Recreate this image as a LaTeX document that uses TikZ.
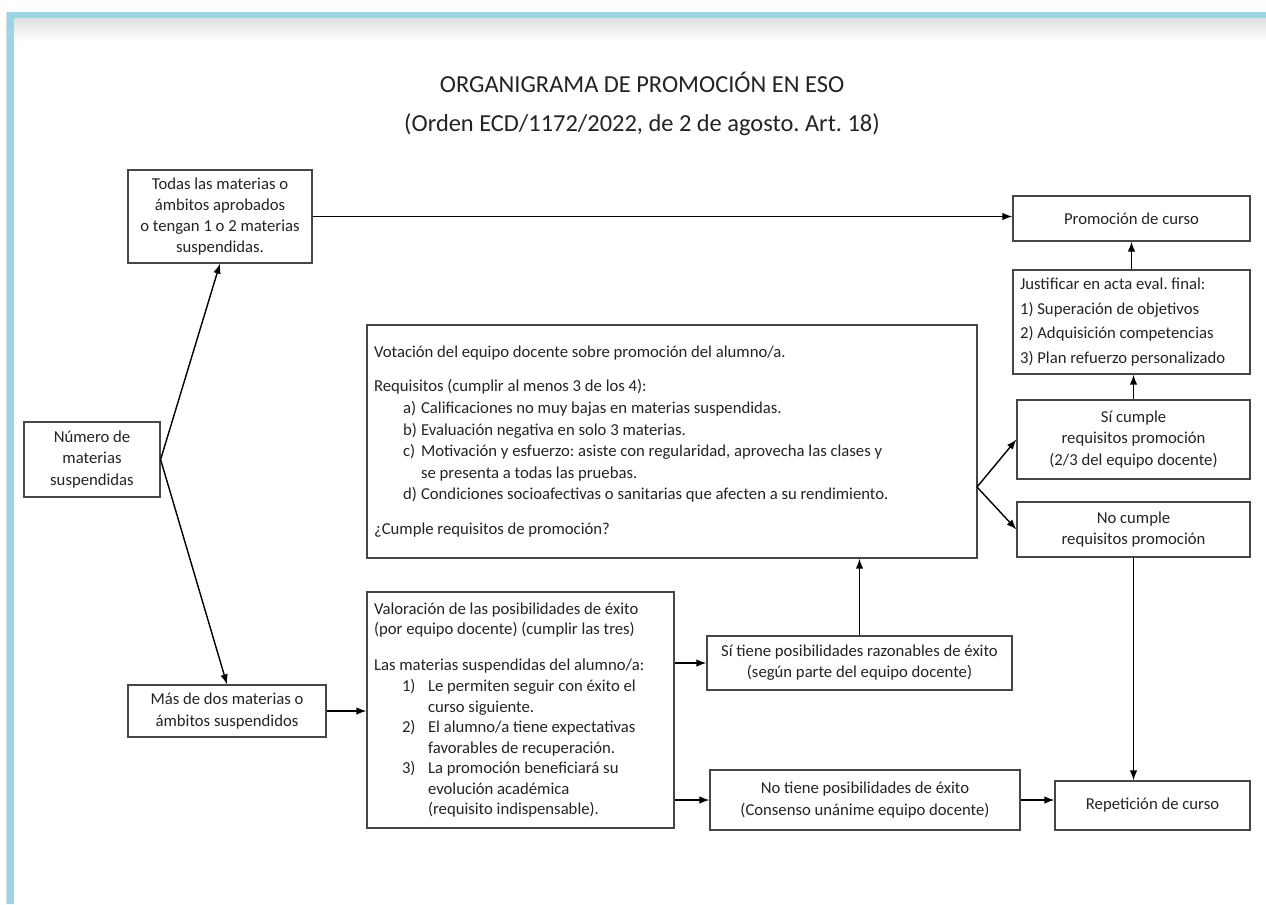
\documentclass[tikz,border=0pt]{standalone}
\usepackage{fontspec}
\setmainfont{Carlito}
\usepackage{tikz}
\usetikzlibrary{arrows, arrows.meta}
\usetikzlibrary{calc}

\definecolor{framebl}{RGB}{152,214,232}
\definecolor{boxline}{RGB}{70,70,70}
\definecolor{inktext}{RGB}{35,35,35}
\newcommand{\litem}[3]{\hspace*{#1}\makebox[#2][l]{#3}}
\frenchspacing

\begin{document}
\begin{tikzpicture}[x=0.02cm, y=-0.02cm]
            \tikzset{box/.style = {shape=rectangle, draw=boxline, line width=0.7pt, text=inktext,
                                   inner xsep=0.14cm, font=\fontsize{9.5}{12}\selectfont}}
            \tikzset{edge/.style = {-, > = {Latex[length=2mm, width=1.5mm]}, line width=0.8pt}}
            \useasboundingbox (0,0) rectangle (1266,904);
            % page frame
            \fill[black!15] (6,12) rectangle (7,904);
            \shade[top color=black!12, bottom color=white] (14,18) rectangle (1266,42);
            \fill[framebl] (7,12) rectangle (1266,18);
            \fill[framebl] (7,12) rectangle (14,904);
            % title
            \node[text=inktext, font=\fontsize{13.9}{16}\selectfont] (title) at (642,82) {ORGANIGRAMA DE PROMOCIÓN EN ESO};
            \node[text=inktext, font=\fontsize{13.9}{16}\selectfont] (subtitle) at (642,125) {(Orden ECD/1172/2022, de 2 de agosto. Art. 18)};
            % boxes
            \node[box, align=center, minimum width=3.68cm, minimum height=1.86cm] (todas) at (220,216.5)
                {Todas las materias o\\ámbitos aprobados\\o tengan 1 o 2 materias\\suspendidas.};
            \node[box, align=center, minimum width=4.74cm, minimum height=0.9cm] (promo) at (1131.5,218.5) {Promoción de curso};
            \node[box, align=flush left, text width=4.46cm, minimum height=2.08cm, font=\fontsize{9.5}{14}\selectfont] (just) at (1131.5,322)
                {Justificar en acta eval. final:\\1) Superación de objetivos\\2) Adquisición competencias\\3) Plan refuerzo personalizado};
            \node[box, align=center, minimum width=4.66cm, minimum height=1.58cm] (sicumple) at (1133.5,439.5)
                {Sí cumple\\requisitos promoción\\(2/3 del equipo docente)};
            \node[box, align=center, minimum width=4.66cm, minimum height=1.1cm] (nocumple) at (1133.5,529.5)
                {No cumple\\requisitos promoción};
            \node[box, align=flush left, text width=11.92cm, minimum height=4.66cm, font=\fontsize{9.5}{12.3}\selectfont] (votacion) at (672,441.5)
                {Votación del equipo docente sobre promoción del alumno/a.\\[7.5pt]
                 Requisitos (cumplir al menos 3 de los 4):\\
                 \litem{0.58cm}{0.36cm}{a)}Calificaciones no muy bajas en materias suspendidas.\\
                 \litem{0.58cm}{0.36cm}{b)}Evaluación negativa en solo 3 materias.\\
                 \litem{0.58cm}{0.36cm}{c)}Motivación y esfuerzo: asiste con regularidad, aprovecha las clases y\\
                 \hspace*{0.94cm}se presenta a todas las pruebas.\\
                 \litem{0.58cm}{0.36cm}{d)}Condiciones socioafectivas o sanitarias que afecten a su rendimiento.\\[7.5pt]
                 ¿Cumple requisitos de promoción?};
            \node[box, align=center, minimum width=2.72cm, minimum height=1.5cm] (numero) at (92,459.5)
                {Número de\\materias\\suspendidas};
            \node[box, align=center, minimum width=3.96cm, minimum height=1.04cm] (mas) at (227,711)
                {Más de dos materias o\\ámbitos suspendidos};
            \node[box, align=flush left, text width=5.86cm, minimum height=4.72cm, font=\fontsize{9.5}{11.7}\selectfont] (valor) at (520.5,710)
                {Valoración de las posibilidades de éxito\\
                 (por equipo docente) (cumplir las tres)\\[9pt]
                 Las materias suspendidas del alumno/a:\\
                 \litem{0.56cm}{0.52cm}{1)}Le permiten seguir con éxito el\\
                 \hspace*{1.08cm}curso siguiente.\\
                 \litem{0.56cm}{0.52cm}{2)}El alumno/a tiene expectativas\\
                 \hspace*{1.08cm}favorables de recuperación.\\
                 \litem{0.56cm}{0.52cm}{3)}La promoción beneficiará su\\
                 \hspace*{1.08cm}evolución académica\\
                 \hspace*{1.08cm}(requisito indispensable).};
            \node[box, align=center, minimum width=6.1cm, minimum height=1.08cm] (sitiene) at (859.5,663)
                {Sí tiene posibilidades razonables de éxito\\(según parte del equipo docente)};
            \node[box, align=center, minimum width=6.2cm, minimum height=1.2cm] (notiene) at (865,800)
                {No tiene posibilidades de éxito\\(Consenso unánime equipo docente)};
            \node[box, align=center, minimum width=3.9cm, minimum height=0.98cm] (repe) at (1152.5,805.5) {Repetición de curso};
            \coordinate (fork) at (977,487);
            % connectors
            \draw[edge,->] (todas.east) -- (todas.east -| promo.west);
            \draw[edge,->] (numero.east) -- (todas.south);
            \draw[edge,->] (numero.east) -- (mas.north);
            \draw[edge,->] (mas.east) -- (mas.east -| valor.west);
            \draw[edge,->] (valor.east |- sitiene.west) -- (sitiene.west);
            \draw[edge,->] (valor.east |- notiene.west) -- (notiene.west);
            \draw[edge,->] (sitiene.north) -- (sitiene.north |- votacion.south);
            \draw[edge,->] (fork) -- (sicumple.west);
            \draw[edge,->] (fork) -- (nocumple.west);
            \draw[edge,->] (sicumple.north) -- (sicumple.north |- just.south);
            \draw[edge,->] (just.north) -- (promo.south);
            \draw[edge,->] (nocumple.south) -- (nocumple.south |- repe.north);
            \draw[edge,->] (notiene.east) -- (notiene.east -| repe.west);
          \end{tikzpicture}
\end{document}
